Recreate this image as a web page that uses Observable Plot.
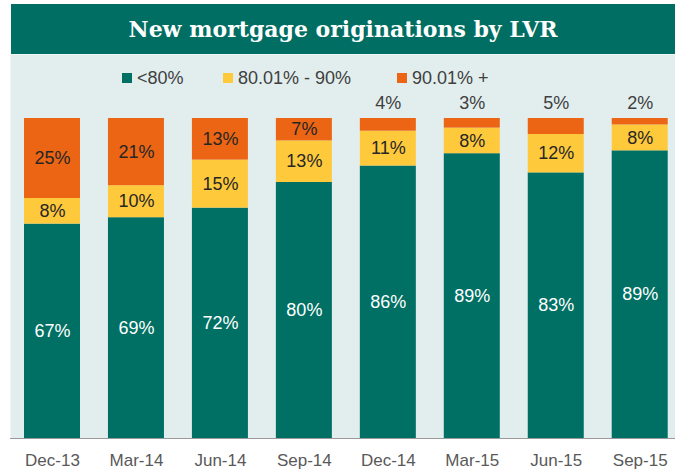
<!DOCTYPE html>
<html><head><meta charset="utf-8">
<script src="https://cdn.jsdelivr.net/npm/d3@7"></script>
<script src="https://cdn.jsdelivr.net/npm/@observablehq/plot@0.6"></script>
<style>
body{margin:0;background:#fff;font-family:"Liberation Sans",Arial,sans-serif;}
#wrap{position:relative;width:675px;height:472px;overflow:hidden;}
#title{position:absolute;left:11px;top:4px;width:664px;height:50px;background:#006e63;color:#fff;font:bold 22px "DejaVu Serif",serif;display:flex;align-items:center;justify-content:center;letter-spacing:0px;}
#legend{position:absolute;left:10px;top:54px;width:665px;height:42px;z-index:2;}
.item{position:absolute;top:15px;height:18px;display:flex;align-items:center;font-size:18px;color:#404040;white-space:nowrap;}
.sw{width:10px;height:10px;margin-right:5px;}
#chart{position:absolute;left:0;top:54px;z-index:1;}
</style></head>
<body>
<div id="wrap">
  <div id="title">New mortgage originations by LVR</div>
  <div id="chart"></div>
  <div id="legend"></div>
</div>
<script>
const periods = ["Dec-13","Mar-14","Jun-14","Sep-14","Dec-14","Mar-15","Jun-15","Sep-15"];
const below80 = [67, 69, 72, 80, 86, 89, 83, 89];
const mid8090 = [8, 10, 15, 13, 11, 8, 12, 8];
const above90 = [25, 21, 13, 7, 4, 3, 5, 2];
const seriesNames = ["<80%", "80.01% - 90%", "90.01% +"];
const seriesColors = ["#006f64", "#ffc93c", "#eb6514"];
const labelColors = ["#ffffff", "#262626", "#262626"];
const legendLeft = [112, 213, 387];

// legend
const leg = document.getElementById("legend");
seriesNames.forEach((s, i) => {
  const it = document.createElement("div");
  it.className = "item";
  it.style.left = legendLeft[i] + "px";
  it.innerHTML = `<span class="sw" style="background:${seriesColors[i]}"></span><span></span>`;
  it.lastChild.textContent = s;
  leg.appendChild(it);
});

// build normalized stacked rows
const seriesVals = [below80, mid8090, above90];
const rows = [];
periods.forEach((p, i) => {
  const total = below80[i] + mid8090[i] + above90[i];
  let acc = 0;
  seriesVals.forEach((arr, k) => {
    const v = arr[i];
    rows.push({period: p, series: seriesNames[k], k, value: v, y1: acc / total, y2: (acc + v) / total});
    acc += v;
  });
});
const inside = rows.filter(d => !(d.k === 2 && d.value < 6));
const outside = rows.filter(d => d.k === 2 && d.value < 6);

const chart = Plot.plot({
  width: 675,
  height: 418,
  marginTop: 0,
  marginBottom: 34,
  marginLeft: 10,
  marginRight: 0,
  style: {fontFamily: "'Liberation Sans', Arial, sans-serif", fontSize: "17px", color: "#595959", background: "transparent"},
  x: {domain: periods, range: [10, 681.7], round: false, paddingInner: 0.333, paddingOuter: 0.1667, label: null, tickSize: 0, tickPadding: 15},
  y: {domain: [0, 384 / 320], axis: null},
  color: {domain: seriesNames, range: seriesColors},
  marks: [
    Plot.frame({fill: "#e2eeee", stroke: "none"}),
    Plot.barY(rows, {x: "period", y1: "y1", y2: "y2", fill: "series"}),
    Plot.text(inside, {x: "period", y: d => (d.y1 + d.y2) / 2, text: d => d.value + "%", fill: d => labelColors[d.k], fontSize: 18}),
    Plot.text(outside, {x: "period", y: "y2", dy: -15, text: d => d.value + "%", fill: "#404040", fontSize: 18}),
    Plot.ruleY([0], {stroke: "#9a9a9a"})
  ]
});
document.getElementById("chart").appendChild(chart);
</script>
</body></html>
